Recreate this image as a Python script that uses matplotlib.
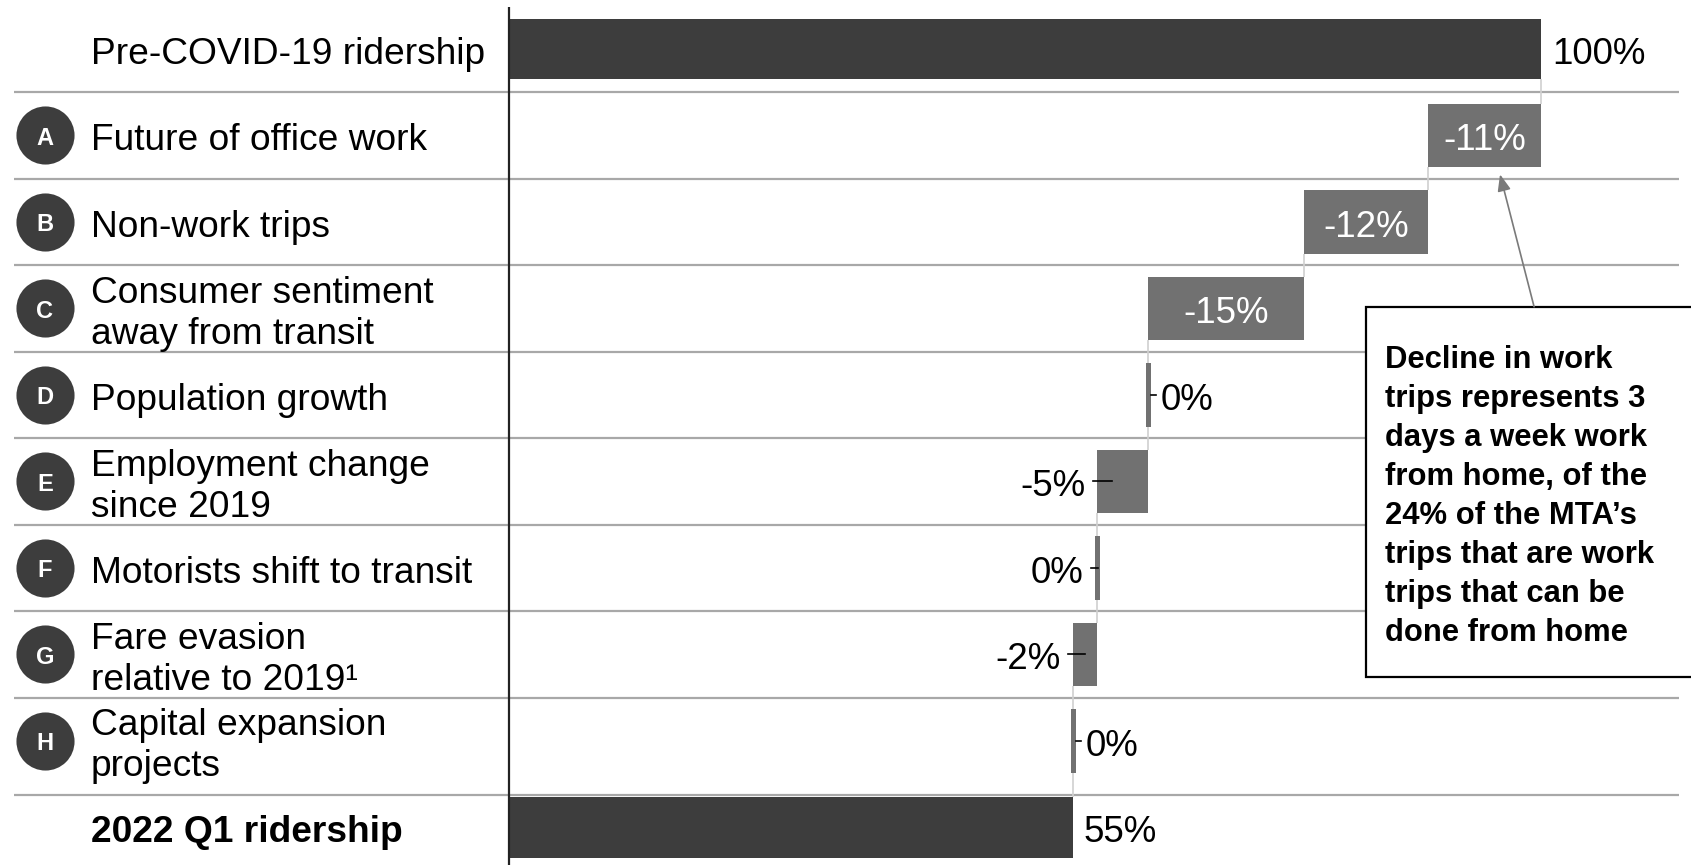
import numpy as np
import matplotlib.pyplot as plt

plt.rcParams['font.family'] = ['Liberation Sans', 'DejaVu Sans']

# data
categories = ["Pre-COVID-19 ridership", "Future of office work", "Non-work trips",
              "Consumer sentiment\naway from transit", "Population growth",
              "Employment change\nsince 2019", "Motorists shift to transit",
              "Fare evasion\nrelative to 2019\u00b9", "Capital expansion\nprojects",
              "2022 Q1 ridership"]
badges = ["", "A", "B", "C", "D", "E", "F", "G", "H", ""]
start_value = 100
changes = [-11, -12, -15.1, 0, -4.9, 0, -2.35, 0]
end_value = 54.65
note_text = ("Decline in work\ntrips represents 3\ndays a week work\nfrom home, of the\n"
             "24% of the MTA\u2019s\ntrips that are work\ntrips that can be\ndone from home")

# where the small value labels sit (inside / left / right of the bar)
label_side = ["in", "in", "in", "right", "left", "left", "left", "right"]

DARK = "#3d3d3d"
MID = "#717171"
SEP = "#a8a8a8"
CONN = "#d0d0d0"
DY = 0.06  # nudge text down so the glyphs sit centred in the row


def pct(v):
    return f"{int(round(v)) + 0}%"


fig = plt.figure(figsize=(16.91, 8.65), dpi=100)
ax = fig.add_axes([0, 0, 1, 1])
ax.set_xlim(-49.3, 114.5)
ax.set_ylim(9.434, -0.566)
ax.axis("off")

n = len(categories)
bh_tot = 0.70
bh = 0.73

# row separators
sep_y = [i + 0.5 for i in range(n - 2)] + [n - 1.37]
ax.hlines(sep_y, -47.9, 113.3, color=SEP, lw=1.6, zorder=1)

# category axis line
ax.vlines(0, -0.486, 9.434, color="#222222", lw=1.6, zorder=5)

# totals
ax.barh(0, start_value, height=bh_tot, color=DARK, zorder=3)
ax.barh(n - 1, end_value, height=bh_tot, color=DARK, zorder=3)
ax.text(start_value + 1.1, DY, pct(start_value), va="center", ha="left", fontsize=26.5)
ax.text(end_value + 1.0, n - 1 + DY, pct(end_value), va="center", ha="left", fontsize=26.5)

levels = [start_value] + list(start_value + np.cumsum(changes))
for i, v in enumerate(changes):
    row = i + 1
    prev, cur = levels[i], levels[i + 1]
    if v == 0:
        left, width = prev - 0.2, 0.45
    else:
        left, width = cur, -v
    ax.barh(row, width, left=left, height=bh, color=MID, zorder=3)
    # connector from previous bar
    top_prev = row - 1 + (bh_tot if row == 1 else bh) / 2
    ax.vlines(prev, top_prev, row - bh / 2, color=CONN, lw=1.2, zorder=2)
    side = label_side[i]
    txt = pct(v)
    if side == "in":
        ax.text(left + width / 2, row + DY, txt, color="white", va="center", ha="center",
                fontsize=26.5, zorder=4)
    elif side == "left":
        ax.plot([left - 0.45, left + min(1.4, width / 2)], [row, row], color="black", lw=1.2, zorder=4)
        ax.text(left - 1.2, row + DY, txt, va="center", ha="right", fontsize=26.5, zorder=4)
    else:
        right = left + width
        ax.plot([right, right + 0.5], [row, row], color="black", lw=1.2, zorder=4)
        ax.text(right + 1.0, row + DY, txt, va="center", ha="left", fontsize=26.5, zorder=4)
# connector into the final total
ax.vlines(levels[-1], n - 2 + bh / 2, n - 1 - bh_tot / 2, color=CONN, lw=1.2, zorder=2)

# category labels and letter badges
for i, (lab, b) in enumerate(zip(categories, badges)):
    weight = "bold" if i == n - 1 else "normal"
    ax.text(-40.5, i + DY, lab, va="center", ha="left", fontsize=26.7, fontweight=weight,
            linespacing=1.22)
    if b:
        ax.scatter(-44.95, i, s=1750, color=DARK, zorder=4, linewidths=0)
        ax.text(-44.95, i + 0.03, b, color="white", fontsize=17, fontweight="bold",
                va="center", ha="center", zorder=5)

# callout box
box = plt.Rectangle((83.0, 2.98), 40, 4.28, facecolor="white", edgecolor="black",
                    lw=1.6, zorder=6)
ax.add_patch(box)
ax.text(84.9, 5.17, note_text, fontsize=22.3, fontweight="bold", va="center", ha="left",
        linespacing=1.39, zorder=7)
ax.annotate("", xy=(96.0, 1.45), xytext=(99.3, 2.98),
            arrowprops=dict(arrowstyle="-|>,head_length=1.0,head_width=0.4",
                            color="#7a7a7a", lw=1.2, shrinkA=0, shrinkB=0), zorder=6)

fig.savefig("out.png", dpi=100)
